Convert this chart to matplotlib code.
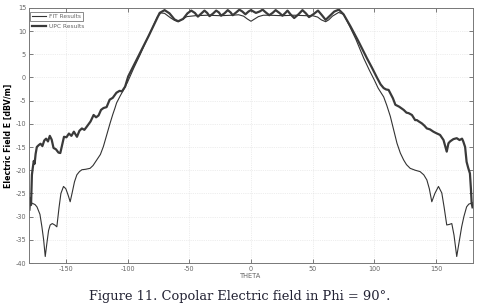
import numpy as np
import matplotlib
matplotlib.use('Agg')
from matplotlib import pyplot as plt

plt.rcParams['axes.unicode_minus'] = False

# FIT results (thin line)
THETA_FIT = [-180, -177.4, -175, -173.4, -171, -169.4, -168, -166.7, -165.5, -164, -162.7,
             -161, -159, -157.3, -155.5, -154, -151.9, -150, -148, -146.5, -145, -143,
             -141.1, -139, -137, -134, -130.4, -128, -125, -122, -119.6, -117, -114.2,
             -112, -110.2, -108.9, -106, -103.5, -100, -95, -90, -85, -80, -76, -73,
             -70, -65, -62, -59, -55, -52, -45, -35, -25, -15, -10, -6, -3, 0,
             3, 6, 10, 15, 25, 35, 45, 50, 54, 57, 60.5, 63, 66, 71, 75, 80,
             85, 91.4, 96, 100, 103, 107.5, 110, 112.9, 115.5, 118.3, 121, 123.7, 126, 129,
             133, 137, 140, 142.5, 144.5, 146.5, 149, 151.9, 154.6, 156.5, 158.6, 160.5,
             162.7, 164.5, 166.7, 168, 170.7, 172.5, 174.7, 176.5, 178.8, 180]
FIELD_FIT = [-27.0, -27.1, -27.4, -27.9, -29.5, -32.2, -35.0, -38.6, -36.0, -33.0, -31.8,
             -31.5, -31.8, -32.2, -28.0, -25.0, -23.5, -24.0, -25.5, -26.8, -25.0, -22.5,
             -21.0, -20.3, -19.9, -19.8, -19.6, -19.0, -17.8, -16.6, -14.9, -12.5, -9.9,
             -8.0, -6.6, -5.5, -4.0, -2.8, -1.0, 2.0, 4.8, 7.8, 10.6, 13.0, 13.9,
             13.8, 12.8, 12.3, 12.0, 12.6, 13.1, 13.3, 13.4, 13.3, 13.4, 13.5, 13.2, 12.6, 12.1,
             12.6, 13.1, 13.4, 13.4, 13.3, 13.4, 13.3, 13.3, 13.0, 12.4, 12.0, 12.4, 13.2, 14.0, 13.6, 11.0,
             8.2, 4.1, 1.5, -0.6, -2.3, -4.2, -6.0, -8.4, -11.2, -14.2, -16.3, -17.8, -18.8, -19.6,
             -20.0, -20.3, -21.0, -22.1, -24.0, -26.8, -25.0, -23.5, -24.9, -28.0, -31.8, -31.7,
             -31.5, -34.0, -38.6, -36.5, -32.2, -30.0, -27.9, -27.3, -27.1, -27.0]

# UPC results (thick line)
THETA_UPC = [-179.5, -178.8, -178.2, -177.5, -176.8, -176, -175.3, -174.5, -173.5, -172,
             -170.5, -169, -167.5, -166, -164.5, -163, -161.5, -160, -158, -156, -154.5,
             -153, -151.5, -149.5, -147.5, -145.5, -143.5, -141, -139, -137, -135, -133,
             -130, -127.5, -125.5, -123.5, -121.5, -119.5, -117, -114.5, -112, -109, -106.5,
             -104.5, -102, -99.5, -94, -88.7, -83, -78, -74, -70, -66, -62, -59, -55,
             -51.5, -48.4, -45.5, -43, -40.5, -37.7, -35.5, -33.6, -31, -28.2, -26,
             -24.2, -21.5, -18.8, -16.5, -14.8, -12, -9.4, -7, -4.5, -2, 0, 2, 4, 7,
             9.4, 12, 14.8, 17.5, 20, 23, 25.5, 27.5, 29.6, 32, 35, 38.5, 41.7, 44.5,
             47, 50.5, 54.3, 57.5, 60.5, 64, 67.5, 71.2, 75, 80.6, 87, 94, 98, 102,
             105, 107.5, 109.5, 111.5, 115, 117, 120, 123.7, 126, 127.7, 130.4, 133,
             134.4, 136, 138.4, 140.5, 142.5, 145, 147.8, 150, 153.2, 156, 158.6, 160,
             161.3, 164, 166.7, 169, 171, 172, 173.5, 174.7, 176, 177.4, 178.2, 178.8, 179.5]
FIELD_UPC = [-28.5, -26.0, -27.5, -21.0, -19.5, -18.0, -18.6, -16.5, -15.0, -14.6,
             -14.3, -14.8, -13.6, -13.2, -13.8, -12.6, -13.4, -15.2, -15.5, -16.2, -16.3,
             -14.5, -12.8, -12.9, -12.1, -12.6, -11.7, -12.8, -11.5, -11.0, -11.3, -10.6,
             -9.5, -8.1, -8.6, -8.2, -7.0, -6.6, -6.4, -4.8, -4.4, -3.3, -2.9,
             -3.0, -2.0, 0.2, 3.1, 5.9, 8.9, 11.7, 13.9, 14.5, 13.8, 12.5, 12.1, 12.6,
             13.8, 14.4, 13.9, 13.1, 13.7, 14.4, 13.9, 13.2, 13.7, 14.4, 14.0,
             13.3, 13.8, 14.5, 14.0, 13.4, 14.0, 14.6, 14.2, 13.6, 14.2, 14.5, 14.2, 13.9, 14.2,
             14.6, 14.0, 13.4, 13.9, 14.5, 13.9, 13.3, 13.8, 14.4, 13.6, 12.8, 13.6, 14.5, 13.8,
             13.0, 13.6, 14.4, 13.4, 12.4, 13.3, 14.2, 14.6, 13.6, 11.0, 7.8, 4.1, 2.1, 0.0,
             -1.5, -2.3, -2.6, -2.7, -4.5, -5.9, -6.3, -7.0, -7.6, -7.7, -8.1, -9.2,
             -9.2, -9.5, -9.9, -10.4, -11.0, -11.2, -11.7, -12.0, -12.4, -13.5, -16.0, -14.2,
             -13.8, -13.3, -13.1, -13.5, -13.2, -13.8, -15.0, -18.2, -19.5, -20.7, -24.0, -27.1, -28.0]

XTICKS = [-150, -100, -50, 0, 50, 100, 150]
YTICKS = [-40, -35, -30, -25, -20, -15, -10, -5, 0, 5, 10, 15]

fig = plt.figure(figsize=(4.97, 3.06), dpi=100)
ax = fig.add_axes([0.058, 0.1405, 0.894, 0.834])

h_fit, = ax.plot(THETA_FIT, FIELD_FIT, color='#333333', lw=0.8)
h_upc, = ax.plot(THETA_UPC, FIELD_UPC, color='#3a3a3a', lw=1.6)

ax.set_xlim(-180, 180)
ax.set_ylim(-40, 15)
ax.set_xticks(XTICKS)
ax.set_yticks(YTICKS)
ax.tick_params(direction='in', length=3, width=0.6, labelsize=4.7, colors='#666666',
               top=True, right=True, pad=2)
ax.grid(True, color='#dddddd', ls=':', lw=0.5)
for s in ax.spines.values():
    s.set_color('#777777')
    s.set_linewidth(0.7)

ax.set_xlabel('THETA', fontsize=4.8, color='#666666', labelpad=1)
ax.set_ylabel('Electric Field E [dBV/m]', fontsize=5.7, fontweight='bold', labelpad=2)

leg1 = ax.legend([h_fit], ['FIT Results'], loc='upper left', bbox_to_anchor=(0.003, 0.985),
                 fontsize=4.2, frameon=True, fancybox=False, edgecolor='#555555',
                 handlelength=2.4, borderpad=0.35, handletextpad=0.4, borderaxespad=0)
leg1.get_frame().set_linewidth(0.6)
for t in leg1.get_texts():
    t.set_color('#666666')
ax.add_artist(leg1)
leg2 = ax.legend([h_upc], ['UPC Results'], loc='upper left', bbox_to_anchor=(0.003, 0.945),
                 fontsize=4.2, frameon=False, handlelength=2.4, borderpad=0.35,
                 handletextpad=0.4, borderaxespad=0)
for t in leg2.get_texts():
    t.set_color('#666666')

fig.text(0.483, 0.03, 'Figure 11. Copolar Electric field in Phi = 90°.',
         ha='center', va='center', fontsize=9.4, family='DejaVu Serif', color='#222233')

fig.savefig('out.png', dpi=100)
